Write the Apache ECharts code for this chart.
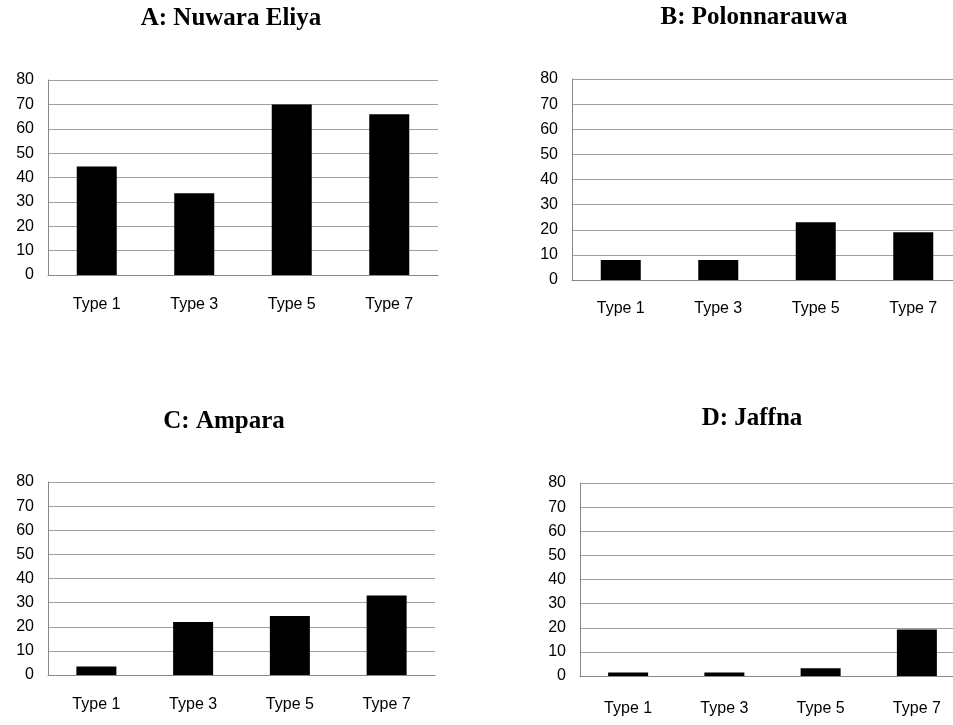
<!DOCTYPE html>
<html>
<head>
<meta charset="utf-8">
<script src="https://cdn.jsdelivr.net/npm/echarts@6/dist/echarts.min.js"></script>
<style>
  html, body { margin: 0; padding: 0; background: #fff; }
  #chart { width: 953px; height: 725px; }
</style>
</head>
<body>
<div id="chart"></div>
<script>
  // data
  var types = ['Type 1', 'Type 3', 'Type 5', 'Type 7'];
  var titles = ['A: Nuwara Eliya', 'B: Polonnarauwa', 'C: Ampara', 'D: Jaffna'];
  var nuwaraEliya = [44.5, 33.5, 70, 66];
  var polonnaruwa = [8, 8, 23, 19];
  var ampara = [3.5, 22, 24.5, 33];
  var jaffna = [1.5, 1.5, 3.2, 19.3];
  var yTicks = [0, 10, 20, 30, 40, 50, 60, 70, 80];

  var panelData = [nuwaraEliya, polonnaruwa, ampara, jaffna];

  // panel boxes (pixels) - B and D run past the right edge like the original
  var boxes = [
    { left: 48, top: 80, width: 390, height: 195, titleX: 231, titleY: 6, xMargin: 22 },
    { left: 572, top: 79, width: 390, height: 201, titleX: 754, titleY: 5, xMargin: 21 },
    { left: 48, top: 482, width: 387, height: 193, titleX: 224, titleY: 409, xMargin: 22 },
    { left: 580, top: 483, width: 385, height: 193, titleX: 752, titleY: 406, xMargin: 25 }
  ];

  var chart = echarts.init(document.getElementById('chart'));

  var option = {
    animation: false,
    backgroundColor: '#fff',
    title: [],
    grid: [],
    xAxis: [],
    yAxis: [],
    series: []
  };

  for (var i = 0; i < 4; i++) {
    var b = boxes[i];
    option.title.push({
      text: titles[i],
      left: b.titleX,
      top: b.titleY,
      textAlign: 'center',
      padding: 0,
      textStyle: {
        fontFamily: 'Liberation Serif',
        fontWeight: 'bold',
        fontSize: 25,
        color: '#000'
      }
    });
    option.grid.push({
      left: b.left,
      top: b.top,
      width: b.width,
      height: b.height,
      containLabel: false,
      outerBoundsMode: 'none'
    });
    option.xAxis.push({
      type: 'category',
      gridIndex: i,
      data: types,
      axisLine: { lineStyle: { color: '#888', width: 1 } },
      axisTick: { show: false },
      axisLabel: {
        margin: b.xMargin,
        fontFamily: 'Liberation Sans',
        fontSize: 16,
        color: '#000'
      }
    });
    option.yAxis.push({
      type: 'value',
      gridIndex: i,
      min: yTicks[0],
      max: yTicks[yTicks.length - 1],
      interval: 10,
      axisLine: { show: true, lineStyle: { color: '#888', width: 1 } },
      axisTick: { show: false },
      splitLine: { lineStyle: { color: '#a0a0a0', width: 1 } },
      axisLabel: {
        margin: 14,
        fontFamily: 'Liberation Sans',
        fontSize: 16,
        color: '#000'
      }
    });
    option.series.push({
      type: 'bar',
      xAxisIndex: i,
      yAxisIndex: i,
      data: panelData[i],
      barWidth: 40,
      itemStyle: { color: '#000' }
    });
  }

  chart.setOption(option);
</script>
</body>
</html>
